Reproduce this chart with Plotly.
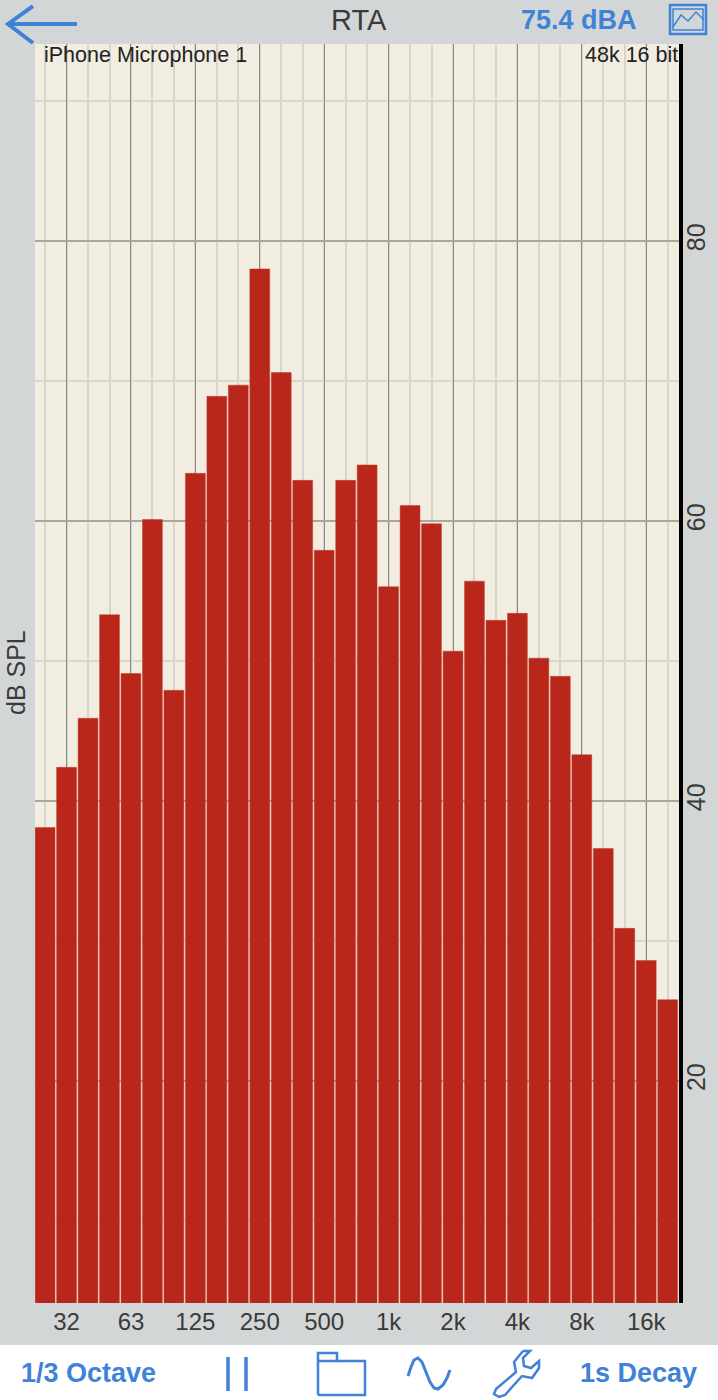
import plotly.graph_objects as go

W, H = 718, 1400
categories = ["25","31.5","40","50","63","80","100","125","160","200","250","315","400","500","630",
              "800","1k","1.25k","1.6k","2k","2.5k","3.15k","4k","5k","6.3k","8k","10k","12.5k","16k","20k"]
db_spl = [38.1,42.4,45.9,53.3,49.1,60.1,47.9,63.4,68.9,69.7,78.0,70.6,62.9,57.9,62.9,
          64.0,55.3,61.1,59.8,50.7,55.7,52.9,53.4,50.2,48.9,43.3,36.6,30.9,28.6,25.8]
x_tick_labels = ["32","63","125","250","500","1k","2k","4k","8k","16k"]
x_tick_index = [1,4,7,10,13,16,19,22,25,28]
y_major = [20,40,60,80]
y_minor = [10,30,50,70,90]

BLUE = "#3f82d8"
GRAY = "#3a3a3a"

def px(x): return x / W
def py(y): return 1 - y / H
def path(points, close=False):
    s = "M" + " L".join(f"{px(a):.5f},{py(b):.5f}" for a, b in points)
    return s + (" Z" if close else "")
def icon(points, width=3, close=False, **kw):
    return dict(type="path", xref="paper", yref="paper", path=path(points, close),
                line=dict(color=BLUE, width=width), layer="above", **kw)
def rect(x0, y0, x1, y1, fill="rgba(0,0,0,0)", line=BLUE, width=0, layer="above"):
    return dict(type="rect", xref="paper", yref="paper", x0=px(x0), x1=px(x1), y0=py(y0), y1=py(y1),
                fillcolor=fill, line=dict(color=line, width=width), layer=layer)
def label(x, y, text, size=22, color=GRAY, bold=False, anchor="center", angle=0):
    return dict(xref="paper", yref="paper", x=px(x), y=py(y), text=f"<b>{text}</b>" if bold else text,
                showarrow=False, xanchor=anchor, yanchor="middle", textangle=angle,
                font=dict(family="Liberation Sans", size=size, color=color))

fig = go.Figure(go.Bar(
    x=list(range(len(categories))), y=db_spl, customdata=categories, base=0,
    marker=dict(color="#b9271a", line=dict(color="#c23c2f", width=0.5)),
    hovertemplate="%{customdata} Hz: %{y} dB<extra></extra>",
))

sine = [(408,1376),(411,1367),(414,1360),(418,1358),(422,1362),(426,1372),(430,1382),(434,1388),
        (438,1389),(443,1385),(447,1378),(450,1370)]
wrench = [(523,1351),(514,1362),(516,1372),(496,1389),(494,1394),(499,1397),(505,1395),(522,1376),
          (532,1378),(539,1368),(539,1361),(531,1368),(524,1366),(523,1358),(530,1351),(523,1351)]
folder = [(318,1395),(318,1353),(337,1353),(337,1361),(365,1361),(365,1395),(318,1395)]
picture = [(673,27),(681,15),(688,21),(696,12),(704,20)]

shapes = [
    rect(0, 1345, W, H, fill="white", layer="below"),
    icon([(77,24),(8,24)], 4),
    icon([(33,6),(8,24),(33,43)], 4),
    rect(670, 5, 706, 34, width=2.5),
    rect(673, 9, 703, 30, width=1.5),
    icon(picture, 1.5),
    icon([(228,1357),(228,1391)], 3.5),
    icon([(246,1357),(246,1391)], 3.5),
    icon(folder, 2.5),
    icon([(318,1361),(337,1361)], 2.5),
    icon(sine, 3),
    icon(wrench, 2.5),
]

annotations = [
    label(359, 20, "RTA", 29),
    label(579, 20, "75.4 dBA", 27, BLUE, True),
    label(42, 55, "iPhone Microphone 1", 21.5, "#222222", anchor="left"),
    label(680, 55, "48k 16 bit", 21.5, "#222222", anchor="right"),
    label(16, 673, "dB SPL", 25, GRAY, angle=-90),
    label(88, 1373, "1/3 Octave", 27, BLUE, True),
    label(638, 1373, "1s Decay", 27, BLUE, True),
]

fig.update_layout(
    width=W, height=H, autosize=False, showlegend=False, bargap=0.075,
    margin=dict(l=0, r=0, t=0, b=0, autoexpand=False),
    paper_bgcolor="#d3d6d6", plot_bgcolor="#f2ede1",
    shapes=shapes, annotations=annotations,
    xaxis=dict(
        domain=[px(35), px(679)], range=[-0.47, 29.527], zeroline=False, showline=False,
        tickmode="array", tickvals=x_tick_index, ticktext=x_tick_labels,
        ticks="", ticklabelstandoff=2,
        tickfont=dict(family="Liberation Sans", size=24, color=GRAY),
        showgrid=True, gridcolor="#8a8984", gridwidth=1,
        minor=dict(dtick=1, tick0=0, showgrid=True, gridcolor="#d8d4cb", gridwidth=1.5, ticks=""),
    ),
    yaxis=dict(
        domain=[py(1303), py(44)], range=[4.14, 94.07], side="right", zeroline=False,
        tickmode="array", tickvals=y_major, tickangle=-90,
        ticks="", ticklabelstandoff=-8,
        tickfont=dict(family="Liberation Sans", size=25, color=GRAY),
        showgrid=True, gridcolor="#aaa69d", gridwidth=1.5,
        minor=dict(tickvals=y_minor, showgrid=True, gridcolor="#d9d5cc", gridwidth=1.5, ticks=""),
        showline=True, linecolor="black", linewidth=4,
    ),
)

fig.write_html("out.html", config=dict(displayModeBar=False),
               post_script="document.body.style.margin='0';document.body.style.overflow='hidden';")
